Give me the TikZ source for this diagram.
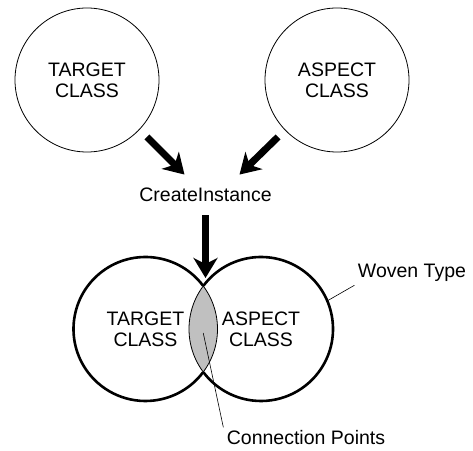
\documentclass[tikz,border=0pt]{standalone}
\usepackage{fontspec}
\setmainfont{Liberation Sans}
\usetikzlibrary{arrows.meta,calc,backgrounds}
\definecolor{lensgray}{RGB}{192,192,192}
\tikzset{
  klass/.style={draw,circle,minimum size=144pt,inner sep=0pt,outer sep=0pt,align=center,line width=0.8pt},
  fatarrow/.style={line width=7pt,-{Stealth[length=20pt,width=24pt,inset=6pt]}},
  leader/.style={line width=0.6pt},
}
\begin{document}
\begin{tikzpicture}[x=1pt,y=1pt,font=\fontsize{19.5}{21}\selectfont]
\useasboundingbox (0,0) rectangle (473,450);
% the two classes
\node[klass] (tl) at (87,370) {TARGET\\CLASS};
\node[klass] (tr) at (337,370) {ASPECT\\CLASS};
\node (ci) at (205.5,255) {CreateInstance};
\draw[fatarrow] ([shift={(9,-6)}]tl.-45) -- ([shift={(-21,10)}]ci.north);
\draw[fatarrow] ([shift={(-8,-6)}]tr.-135) -- ([shift={(34,10)}]ci.north);
% the woven type
\node[klass] (bl) at (145.5,121) {TARGET\\CLASS};
\node[klass] (br) at (261,121) {ASPECT\\CLASS};
\begin{scope}[on background layer]
\clip (bl) circle (72);
\fill[lensgray] (br) circle (72);
\end{scope}
\draw[line width=2.6pt] (bl.37) arc[start angle=37,end angle=323,radius=72];
\draw[line width=2.6pt] (br.143) arc[start angle=143,end angle=-143,radius=72];
\coordinate (weave) at ($(bl)!0.5!(br)+(0,43)$);
\coordinate (lens) at ($(bl)!0.5!(br)+(0,-4)$);
\draw[fatarrow] ([yshift=-10]ci.south) -- ([yshift=8]ci.south |- weave);
% labels
\node (wt) at (412,177) {Woven Type};
\node (cp) at (306,12) {Connection Points};
\draw[leader] (br.23) -- (wt.south west);
\draw[leader] (lens) -- (cp.north west);
\end{tikzpicture}
\end{document}
